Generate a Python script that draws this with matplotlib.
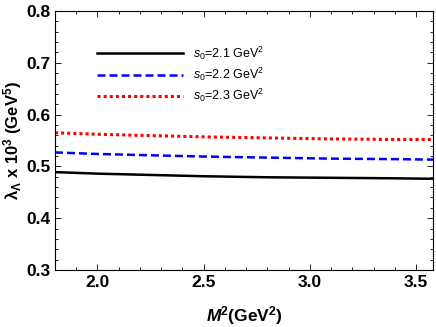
import matplotlib

matplotlib.use("Agg")
import matplotlib.pyplot as plt
from matplotlib.ticker import MultipleLocator

plt.rcParams["font.family"] = ["Liberation Sans", "DejaVu Sans"]
plt.rcParams["mathtext.fontset"] = "custom"
plt.rcParams["mathtext.rm"] = "Liberation Sans"
plt.rcParams["mathtext.it"] = "Liberation Sans:italic"
plt.rcParams["mathtext.bf"] = "Liberation Sans:bold"
plt.rcParams["mathtext.bfit"] = "Liberation Sans:bold:italic"

# Borel mass M^2 (GeV^2) and lambda x 10^3 (GeV^5)
m2 = [1.8, 2.0, 2.2, 2.5, 2.8, 3.1, 3.4, 3.6]
lam_21 = [0.489, 0.486, 0.484, 0.481, 0.479, 0.478, 0.477, 0.476]
lam_22 = [0.527, 0.524, 0.522, 0.519, 0.517, 0.515, 0.514, 0.513]
lam_23 = [0.565, 0.562, 0.560, 0.557, 0.555, 0.553, 0.552, 0.552]
labels = [r"$s_0$=2.1 GeV$^2$", r"$s_0$=2.2 GeV$^2$", r"$s_0$=2.3 GeV$^2$"]

fig = plt.figure(figsize=(4.36, 3.27), dpi=100)
ax = fig.add_axes([55 / 436, 1 - 270 / 327, 378 / 436, 259 / 327])

ax.plot(m2, lam_21, color="black", lw=1.8, label=labels[0])
ax.plot(m2, lam_22, color="#0000ff", lw=1.8, ls=(0, (3.2, 1.6)), label=labels[1])
ax.plot(m2, lam_23, color="#ff0000", lw=2.2, ls=(0, (1, 1)), label=labels[2])

ax.set_xlim(1.8, 3.58)
ax.set_ylim(0.3, 0.8)
ax.xaxis.set_major_locator(MultipleLocator(0.5))
ax.xaxis.set_minor_locator(MultipleLocator(0.1))
ax.yaxis.set_major_locator(MultipleLocator(0.1))
ax.yaxis.set_minor_locator(MultipleLocator(0.02))
ax.tick_params(which="both", direction="in", top=True, right=True, width=0.6)
ax.tick_params(which="major", length=4, labelsize=12.5)
ax.tick_params(which="minor", length=2)
for lab in ax.get_xticklabels() + ax.get_yticklabels():
    lab.set_fontweight("bold")
for s in ax.spines.values():
    s.set_linewidth(0.8)

ax.set_xlabel(r"$\mathbfit{M}^{\mathbf{2}}$(GeV$^{\mathbf{2}}$)",
              fontsize=12.5, fontweight="bold")
ax.xaxis.set_label_coords(0.5, -0.13)
ax.set_ylabel(r"$\mathbf{\lambda_{\Lambda}}$ x 10$^{\mathbf{3}}$ (GeV$^{\mathbf{5}}$)",
              fontsize=12, fontweight="bold")
ax.yaxis.set_label_coords(-0.083, 0.5)

ax.legend(loc="upper left", bbox_to_anchor=(0.11, 0.87), frameon=False,
          fontsize=9, handlelength=6.9, handletextpad=0.8, labelspacing=0.3,
          borderaxespad=0, borderpad=0)

fig.savefig("out.png", dpi=100)
